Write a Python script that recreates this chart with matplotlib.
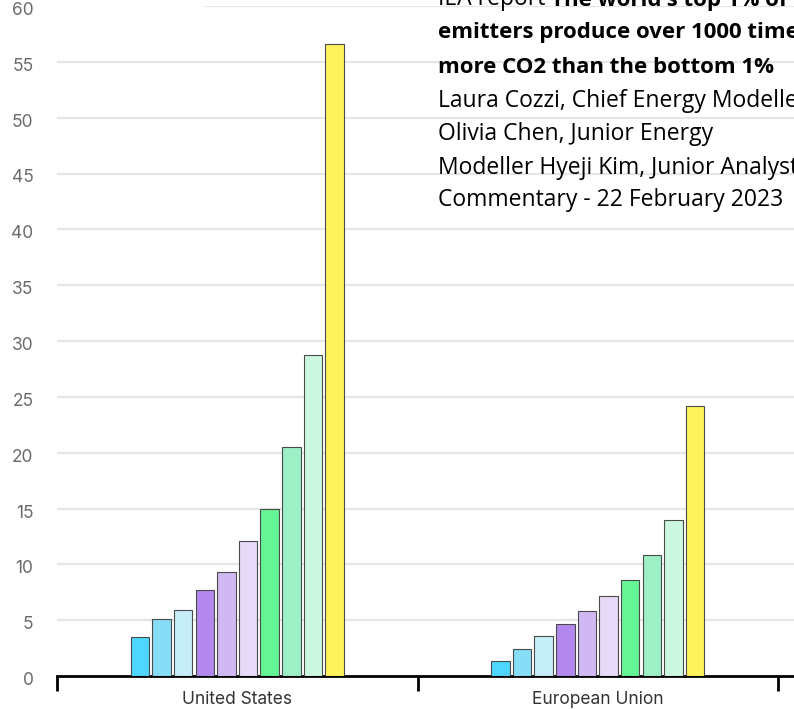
import numpy as np
import matplotlib.pyplot as plt
import matplotlib.transforms as mtransforms

# Per-capita CO2 emissions by income decile group
regions = ["United States", "European Union"]
us_values = [3.45, 5.07, 5.92, 7.66, 9.34, 12.1, 14.93, 20.48, 28.74, 56.6]
eu_values = [1.35, 2.46, 3.58, 4.66, 5.79, 7.14, 8.62, 10.87, 13.96, 24.2]
yticks = [0, 5, 10, 15, 20, 25, 30, 35, 40, 45, 50, 55, 60]

bar_colors = ["#4dd6ff", "#85ddf6", "#c6eef9", "#b388ee", "#d0b9f3",
              "#e6daf8", "#66f594", "#9df0c6", "#ccf7e0", "#fff35c"]

title_lines = [
    ("IEA report ", "The world's top 1% of"),
    ("", "emitters produce over 1000 times"),
    ("", "more CO2 than the bottom 1%"),
    ("Laura Cozzi, Chief Energy Modeller", ""),
    ("Olivia Chen, Junior Energy", ""),
    ("Modeller Hyeji Kim, Junior Analyst", ""),
    ("Commentary - 22 February 2023", ""),
]

W, H = 794, 709
fig = plt.figure(figsize=(W / 100, H / 100), dpi=100)
ax = fig.add_axes([57 / W, (H - 676) / H, (W - 57) / W, 670 / H])

group_x = np.arange(len(regions))
pitch = 0.06
width = 0.0515
for gi, vals in enumerate([us_values, eu_values]):
    for i, v in enumerate(vals):
        ax.bar(group_x[gi] + (i - 4.5) * pitch, v, width=width,
               color=bar_colors[i], edgecolor="#4a4a4a", linewidth=0.8, zorder=3)

ax.set_ylim(0, 60)
ax.set_xlim(-0.5, -0.5 + (W - 57) / 360.5)

# gridlines (top one is partly hidden in the original)
for t in yticks[1:]:
    xmin = (206 - 57) / (W - 57) if t == 60 else 0
    ax.axhline(t, xmin=xmin, xmax=1, color="#e5e5e5", linewidth=1.6, zorder=1)

ax.set_yticks(yticks)
ax.tick_params(axis="y", length=0, pad=17, labelsize=12.5, labelcolor="#6b6b6b")
shift = mtransforms.ScaledTranslation(0, -2.5 / 100, fig.dpi_scale_trans)
for lab in ax.get_yticklabels():
    lab.set_fontfamily("Inter")
    lab.set_transform(lab.get_transform() + shift)

ax.set_xticks(group_x)
ax.set_xticklabels(regions, fontsize=12.5, color="#333333", family="Inter")
ax.tick_params(axis="x", which="major", length=0, pad=11)
ax.set_xticks([-0.5, 0.5, 1.5], minor=True)
ax.tick_params(axis="x", which="minor", length=11, width=2, color="black")

for s in ["top", "right", "left"]:
    ax.spines[s].set_visible(False)
ax.spines["bottom"].set_linewidth(2)
ax.spines["bottom"].set_color("black")

# header text block (cropped at figure edges)
x0 = 438 / W
fs_reg = 16.5
fs_bold = 16
fam = "Open Sans"
baselines = [5, 38, 73, 107, 140, 174, 206]
for (reg, bold), yb in zip(title_lines, baselines):
    y = (H - yb) / H
    t = fig.text(x0, y, reg, fontsize=fs_reg, family=fam, va="baseline", ha="left")
    if bold:
        if reg:
            ax.annotate(bold, xy=(1, 0), xycoords=t, va="bottom", ha="left",
                        fontsize=fs_bold, family=fam, fontweight="bold",
                        annotation_clip=False)
        else:
            fig.text(x0, y, bold, fontsize=fs_bold, family=fam,
                     fontweight="bold", va="baseline", ha="left")

fig.savefig("out.png", dpi=100)
